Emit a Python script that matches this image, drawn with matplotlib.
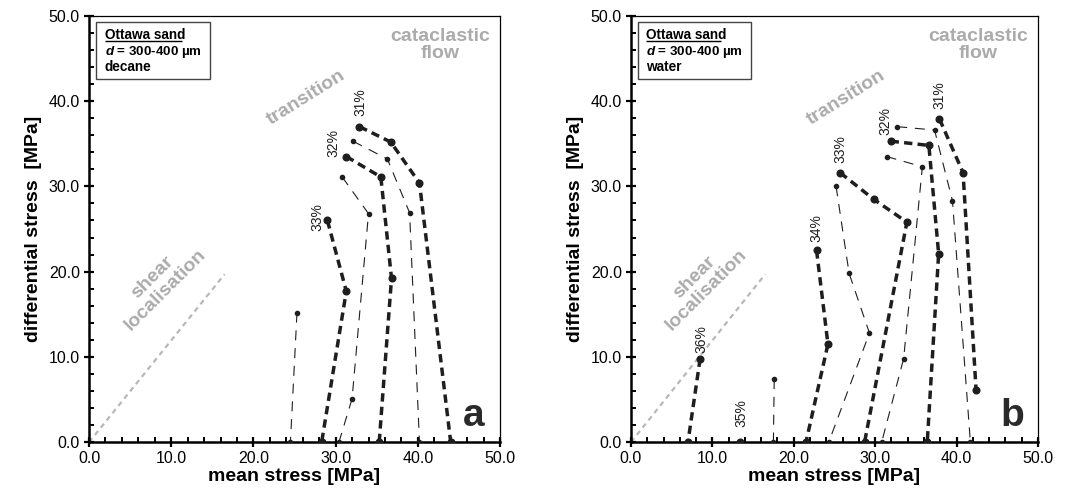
import matplotlib
matplotlib.use("Agg")
import matplotlib.pyplot as plt
from matplotlib.patches import Rectangle
from matplotlib.ticker import MultipleLocator, FormatStrFormatter

plt.rcParams["font.family"] = ["Liberation Sans", "DejaVu Sans"]
plt.rcParams["mathtext.fontset"] = "custom"
plt.rcParams["mathtext.it"] = "Liberation Sans:italic:bold"
plt.rcParams["mathtext.rm"] = "Liberation Sans:bold"

# ---- data ------------------------------------------------------------------
# (x = mean stress, y = differential stress), one entry per porosity curve

# panel a: decane
a_thick_x = [[29.0, 31.3, 28.3],
             [31.3, 35.5, 36.8, 35.3],
             [32.9, 36.7, 40.2, 44.0]]
a_thick_y = [[26.0, 17.7, 0.0],
             [33.5, 31.1, 19.2, 0.0],
             [37.0, 35.2, 30.4, 0.0]]
a_thin_x = [[25.3, 24.5],
            [30.8, 34.0, 32.0, 30.4],
            [32.1, 36.3, 39.0, 40.2]]
a_thin_y = [[15.2, 0.0],
            [31.1, 26.8, 5.1, 0.0],
            [35.3, 33.2, 26.9, 0.0]]
a_labels = ["33%", "32%", "31%"]
a_label_x = [27.8, 29.7, 33.0]
a_label_y = [24.8, 33.4, 38.2]

# panel b: water
b_thick_x = [[8.5, 7.0],
             [13.4],
             [22.8, 24.2, 21.5],
             [25.7, 29.8, 33.9, 28.7],
             [31.9, 36.6, 37.8, 36.4],
             [37.9, 40.8, 42.4]]
b_thick_y = [[9.8, 0.0],
             [0.0],
             [22.5, 11.5, 0.0],
             [31.6, 28.5, 25.8, 0.0],
             [35.3, 34.8, 22.1, 0.0],
             [37.9, 31.6, 6.1]]
b_thin_x = [[17.6, 17.5],
            [25.2, 26.8, 29.3, 24.3],
            [31.4, 35.8, 33.5, 30.8],
            [32.7, 37.3, 39.5, 41.7]]
b_thin_y = [[7.4, 0.0],
            [30.0, 19.8, 12.8, 0.0],
            [33.5, 32.3, 9.8, 0.0],
            [37.0, 36.6, 28.3, 0.0]]
b_labels = ["36%", "35%", "34%", "33%", "32%", "31%"]
b_label_x = [8.6, 13.6, 22.8, 25.7, 31.2, 37.9]
b_label_y = [10.5, 1.8, 23.5, 32.7, 36.0, 39.1]

# boundary of the shear localisation field
boundary_x = [0.0, 16.5]
boundary_y = [0.0, 19.7]

GREY = "#ababab"
INK = "#1e1e1e"


def draw_panel(ax, thick_x, thick_y, thin_x, thin_y, labels, lx, ly,
               fluid, letter):
    ax.plot(boundary_x, boundary_y, color="#b8b8b8", lw=1.6,
            dashes=(2.3, 1.9), zorder=1)

    for xs, ys in zip(thin_x, thin_y):
        ax.plot(xs, ys, color=INK, lw=0.8, dashes=(9, 7),
                marker="o", ms=3, zorder=3)
    for xs, ys in zip(thick_x, thick_y):
        ax.plot(xs, ys, color=INK, lw=2.5, dashes=(2.4, 1.5),
                marker="o", ms=4.8, zorder=4)

    for t, x, y in zip(labels, lx, ly):
        ax.text(x, y, t, rotation=90, ha="center", va="bottom",
                fontsize=10, color=INK)

    # regime names
    ax.text(42.7, 46.6, "cataclastic\nflow", ha="center", va="center",
            fontsize=14, fontweight="bold", color=GREY, linespacing=1.0)
    ax.text(26.4, 40.4, "transition", ha="center", va="center",
            rotation=32, rotation_mode="anchor",
            fontsize=14, fontweight="bold", color=GREY)
    ax.text(8.5, 18.6, "shear\nlocalisation", ha="center", va="center",
            rotation=45, rotation_mode="anchor", linespacing=1.0,
            fontsize=14, fontweight="bold", color=GREY)

    # info box
    ax.add_patch(Rectangle((0.82, 42.6), 13.9, 6.7, facecolor="white",
                           edgecolor="#444444", lw=1.0, zorder=5))
    t1 = ax.text(1.9, 47.25, "Ottawa sand", fontsize=9.8,
                 fontweight="bold", va="baseline", zorder=6)
    ax.text(1.9, 45.35, r"$d$ = 300-400 µm", fontsize=9.6,
            fontweight="bold", va="baseline", zorder=6)
    ax.text(1.9, 43.5, fluid, fontsize=9.8, fontweight="bold",
            va="baseline", zorder=6)
    ax.figure.canvas.draw()
    bb = t1.get_window_extent().transformed(ax.transData.inverted())
    ax.plot([bb.x0, bb.x1], [47.0, 47.0], color="black", lw=1.0,
            solid_capstyle="butt", zorder=6)

    ax.text(46.8, 1.9, letter, ha="center", va="baseline",
            fontsize=28, fontweight="bold", color="#2a2a2a")

    ax.set_xlim(0, 50)
    ax.set_ylim(0, 50)
    ax.xaxis.set_major_locator(MultipleLocator(10))
    ax.yaxis.set_major_locator(MultipleLocator(10))
    ax.xaxis.set_minor_locator(MultipleLocator(2))
    ax.yaxis.set_minor_locator(MultipleLocator(2))
    ax.xaxis.set_major_formatter(FormatStrFormatter("%.1f"))
    ax.yaxis.set_major_formatter(FormatStrFormatter("%.1f"))
    ax.tick_params(which="major", direction="inout", length=7, width=1.6,
                   labelsize=11.5, pad=3, color="black")
    ax.tick_params(which="minor", direction="in", length=3.5, width=1.4)
    for side in ("left", "bottom"):
        ax.spines[side].set_linewidth(1.8)
    for side in ("right", "top"):
        ax.spines[side].set_linewidth(0.9)
    ax.set_xlabel("mean stress [MPa]", fontsize=14, fontweight="bold",
                  labelpad=1)
    ax.set_ylabel("differential stress  [MPa]", fontsize=14,
                  fontweight="bold", labelpad=5)


fig = plt.figure(figsize=(10.83, 4.93), dpi=100)
ax_a = fig.add_axes([0.0822, 0.1030, 0.3795, 0.8650])
ax_b = fig.add_axes([0.5826, 0.1030, 0.3758, 0.8650])

draw_panel(ax_a, a_thick_x, a_thick_y, a_thin_x, a_thin_y,
           a_labels, a_label_x, a_label_y, "decane", "a")
draw_panel(ax_b, b_thick_x, b_thick_y, b_thin_x, b_thin_y,
           b_labels, b_label_x, b_label_y, "water", "b")

fig.savefig("out.png", dpi=100)
